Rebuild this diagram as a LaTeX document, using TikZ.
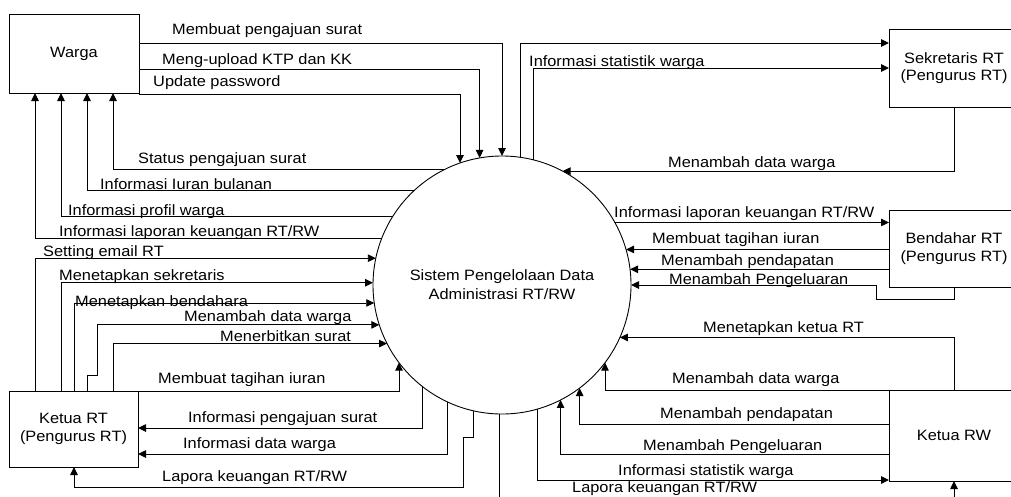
\documentclass[tikz,border=0pt]{standalone}
\usepackage{fontspec}
\usetikzlibrary{arrows.meta}
\newfontfamily\lf{Liberation Sans}[FakeStretch=1.09]
\tikzset{
  lbltext/.style={font=\lf\fontsize{15}{17.5}\selectfont},
  lbl/.style={lbltext, anchor=base west, inner sep=0pt},
  entity/.style={lbltext, draw, rectangle, align=center, inner sep=0pt, outer sep=0pt, line width=0.9pt},
  proc/.style={draw, circle, align=center, inner sep=0pt, outer sep=0pt, minimum size=258pt, line width=0.9pt, font=\lf\fontsize{15}{19}\selectfont},
  flow/.style={line width=0.9pt, -{Triangle[length=8pt,width=7.5pt]}},
  plain/.style={line width=0.9pt}
}
\begin{document}
\begin{tikzpicture}[x=1pt,y=-1pt]
\useasboundingbox (0,0) rectangle (1011,496);
\clip (0,0) rectangle (1011,496);
\fill[white] (0,0) rectangle (1011,496);

% entities
\node[entity, minimum width=130pt, minimum height=79pt] (warga) at (74,53.5) {Warga};
\node[entity, minimum width=129pt, minimum height=76pt] (ketuart) at (73.5,429) {Ketua RT\\(Pengurus RT)};
\node[entity, minimum width=130pt, minimum height=78pt] (sek) at (954,68) {Sekretaris RT\\(Pengurus RT)};
\node[entity, minimum width=130pt, minimum height=77pt] (bend) at (954,248.5) {Bendahar RT\\(Pengurus RT)};
\node[entity, minimum width=130pt, minimum height=91pt] (rw) at (954,435.5) {Ketua RW};
\node[proc] (sys) at (502,285) {Sistem Pengelolaan Data\\Administrasi RT/RW};

% Warga -> system
\draw[flow] (warga.east |- 0,43) -| (sys.90);
\draw[flow] (warga.east |- 0,69) -| (sys.100.27);
\draw[flow] (warga.east |- 0,94) -| (sys.109);
% system -> Warga
\draw[flow] (sys.116) -| (warga.south -| 113,0);
\draw[flow] (sys.133.9) -| (warga.south -| 87,0);
\draw[flow] (sys.148.7) -| (warga.south -| 61,0);
\draw[flow] (sys.159.1) -| (warga.south -| 35,0);

% Ketua RT -> system
\draw[flow] (ketuart.north -| 35,0) |- (sys.168.8);
\draw[flow] (ketuart.north -| 61,0) |- (sys.179.6);
\draw[flow] (ketuart.north -| 74,0) |- (sys.188.9);
\draw[flow] (ketuart.north -| 87,0) |- (97,375) |- (sys.198.1);
\draw[flow] (ketuart.north -| 113,0) |- (sys.207.7);
\draw[flow] (ketuart.north east) -| (sys.217);
% system -> Ketua RT
\draw[flow] (sys.232.2) |- (ketuart.east |- 0,428);
\draw[flow] (sys.245.25) |- (ketuart.east |- 0,454);
\draw[flow] (sys.257.9) |- (463,437) |- (74,487) -- (ketuart.south -| 74,0);

% Sekretaris
\draw[flow] (sys.82.9) |- (sek.west |- 0,43);
\draw[flow] (sys.76.1) |- (sek.west |- 0,68);
\draw[flow] (sek.south) |- (sys.62.1);

% Bendahara
\draw[flow] (sys.29.2) -- (sys.29.2 -| bend.west);
\draw[flow] (sys.16.7 -| bend.west) -- (sys.16.7);
\draw[flow] (sys.7.1 -| bend.west) -- (sys.7.1);
\draw[flow] (bend.south) |- (876,299) |- (sys.0);

% Ketua RW
\draw[flow] (rw.north) |- (sys.336.2);
\draw[flow] (rw.north west) -| (sys.323.7);
\draw[flow] (rw.west |- 0,424) -| (sys.307.8);
\draw[flow] (rw.west |- 0,454) -| (sys.297.2);
\draw[flow] (sys.286.7) |- (rw.west |- 0,480);
\draw[flow] (sys.269.1) |- (rw.south |- 0,512) -- (rw.south);

% labels
\node[lbl] (t1) at (172,34) {Membuat pengajuan surat};
\node[lbl] (t2) at (162,64) {Meng-upload KTP dan KK};
\node[lbl] (t3) at (153,86) {Update password};
\node[lbl] (t4) at (138,163) {Status pengajuan surat};
\node[lbl] (t5) at (100,189) {Informasi Iuran bulanan};
\node[lbl] (t6) at (68,215) {Informasi profil warga};
\node[lbl] (t7) at (59,236) {Informasi laporan keuangan RT/RW};
\node[lbl] (t8) at (43,256) {Setting email RT};
\node[lbl] (t9) at (59,280) {Menetapkan sekretaris};
\node[lbl] (t10) at (75,306) {Menetapkan bendahara};
\node[lbl] (t11) at (184,321) {Menambah data warga};
\node[lbl] (t12) at (220,341) {Menerbitkan surat};
\node[lbl] (t13) at (158,383) {Membuat tagihan iuran};
\node[lbl] (t14) at (188,422) {Informasi pengajuan surat};
\node[lbl] (t15) at (183,448) {Informasi data warga};
\node[lbl] (t16) at (162,481) {Lapora keuangan RT/RW};

\node[lbl] (r1) at (529,66) {Informasi statistik warga};
\node[lbl] (r2) at (668,167) {Menambah data warga};
\node[lbl] (r3) at (614,217) {Informasi laporan keuangan RT/RW};
\node[lbl] (r4) at (652,243) {Membuat tagihan iuran};
\node[lbl] (r5) at (661,265) {Menambah pendapatan};
\node[lbl] (r6) at (669,284) {Menambah Pengeluaran};
\node[lbl] (r7) at (703,332) {Menetapkan ketua RT};
\node[lbl] (r8) at (672,383) {Menambah data warga};
\node[lbl] (r9) at (660,418) {Menambah pendapatan};
\node[lbl] (r10) at (643,450) {Menambah Pengeluaran};
\node[lbl] (r11) at (618,475) {Informasi statistik warga};
\node[lbl] (r12) at (572,492) {Lapora keuangan RT/RW};
\end{tikzpicture}
\end{document}
